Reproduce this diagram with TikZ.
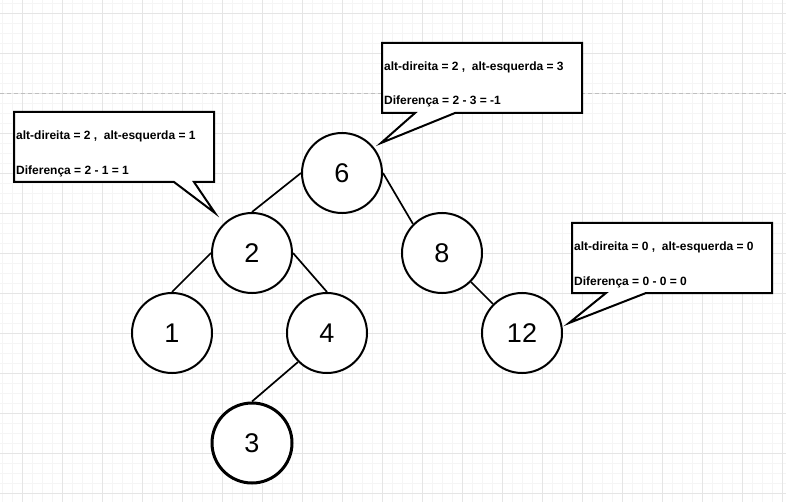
\documentclass[tikz,border=0pt]{standalone}
\usepackage{fontspec}
\setmainfont{Liberation Sans}
\begin{document}
\begin{tikzpicture}[x=1pt,y=-1pt,
  tnode/.style={circle,draw=black,line width=2pt,fill=white,minimum size=80pt,inner sep=0pt,font=\fontsize{27}{27}\selectfont},
  edge/.style={line width=1.7pt,black},
  callout/.style={draw=black,line width=2pt,fill=white,line join=miter},
  ctext/.style={anchor=base west,inner sep=0pt,font=\bfseries\fontsize{12}{12}\selectfont}]
\useasboundingbox (0,0) rectangle (786,502);
\fill[white] (0,0) rectangle (786,502);
% grid
\foreach \x in {2,12,...,782} \draw[color=black!4,line width=0.8pt] (\x,0) -- (\x,502);
\foreach \y in {3,13,...,502} \draw[color=black!4,line width=0.8pt] (0,\y) -- (786,\y);
\foreach \x in {22,62,...,782} \draw[color=black!10,line width=0.8pt] (\x,0) -- (\x,502);
\foreach \y in {13,53,...,502} \draw[color=black!10,line width=0.8pt] (0,\y) -- (786,\y);
\draw[color=black!25,line width=0.8pt,dash pattern=on 4pt off 3pt] (0,93) -- (786,93);
% nodes
\node[tnode] (n6) at (342,173) {6};
\node[tnode] (n2) at (252,253) {2};
\node[tnode] (n8) at (442,253) {8};
\node[tnode] (n1) at (172,333) {1};
\node[tnode] (n4) at (327,333) {4};
\node[tnode] (n12) at (522,333) {12};
\node[tnode,line width=3pt] (n3) at (252,443) {3};
% edges
\draw[edge] (n6.west) -- (n2.north);
\draw[edge] (n6.east) -- (n8.135);
\draw[edge] (n2.west) -- (n1.north);
\draw[edge] (n2.east) -- (n4.north);
\draw[edge] (n8.-45) -- (n12.135);
\draw[edge] (n4.225) -- (n3.north);
% callout top
\draw[callout] (382,43) -- (582,43) -- (582,113) -- (455,113) -- (381,143) -- (415,113) -- (382,113) -- cycle;
\node[ctext] (t1a) at (384,71) {alt-direita = 2 ,\ \ alt-esquerda = 3};
\node[ctext] (t1b) at (384,105) {Diferença = 2 - 3 = -1};
% callout left
\draw[callout] (14,112) -- (214,112) -- (214,182) -- (194,182) -- (215,213) -- (174,182) -- (14,182) -- cycle;
\node[ctext] (t2a) at (16,139.5) {alt-direita = 2 ,\ \ alt-esquerda = 1};
\node[ctext] (t2b) at (16,174.5) {Diferença = 2 - 1 = 1};
% callout right
\draw[callout] (572,223) -- (772,223) -- (772,293) -- (646,293) -- (569,323) -- (606,293) -- (572,293) -- cycle;
\node[ctext] (t3a) at (574,251) {alt-direita = 0 ,\ \ alt-esquerda = 0};
\node[ctext] (t3b) at (574,286) {Diferença = 0 - 0 = 0};
\end{tikzpicture}
\end{document}
